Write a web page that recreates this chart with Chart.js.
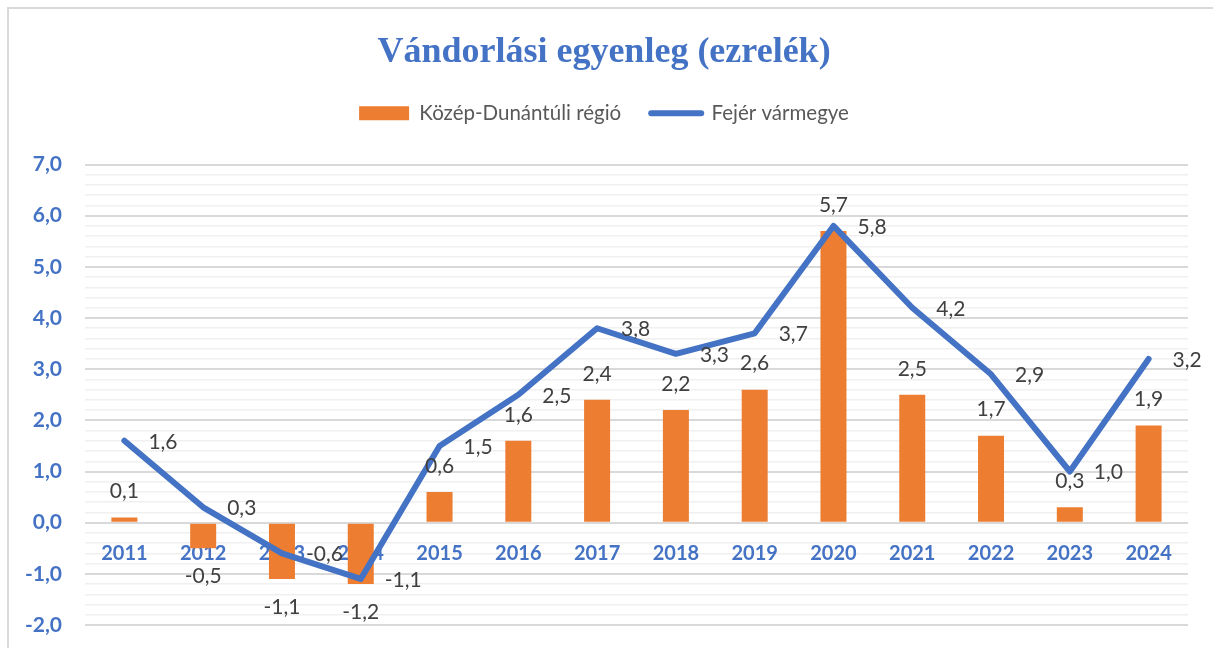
<!DOCTYPE html>
<html>
<head>
<meta charset="utf-8">
<script src="https://cdn.jsdelivr.net/npm/chart.js@4"></script>
<style>
    html, body { margin: 0; padding: 0; background: #ffffff; }
    #wrap { position: relative; width: 1213px; height: 648px; overflow: hidden; }
    #frame { position: absolute; left: 7px; top: 7px; width: 1300px; height: 700px;
             border-left: 2px solid #d9d9d9; border-top: 2px solid #d9d9d9; }
    #chart { position: absolute; left: 0; top: 0; }
</style>
</head>
<body>
<div id="wrap">
    <div id="frame"></div>
    <canvas id="chart" width="1213" height="648"></canvas>
</div>
<script>
const years = ['2011', '2012', '2013', '2014', '2015', '2016', '2017', '2018', '2019', '2020', '2021', '2022', '2023', '2024'];
const regionValues = [0.1, -0.5, -1.1, -1.2, 0.6, 1.6, 2.4, 2.2, 2.6, 5.7, 2.5, 1.7, 0.3, 1.9];
const countyValues = [1.6, 0.3, -0.6, -1.1, 1.5, 2.5, 3.8, 3.3, 3.7, 5.8, 4.2, 2.9, 1.0, 3.2];
const seriesNames = ['Közép-Dunántúli régió', 'Fejér vármegye'];
const chartTitle = 'Vándorlási egyenleg (ezrelék)';

const ORANGE = '#ED7D31';
const BLUE = '#4472C4';

const fmt = v => v.toFixed(1).replace('.', ',');
const isMajor = v => Math.abs(v - Math.round(v)) < 1e-6;

// extra room under the legend, like the Excel layout
const legendGap = {
    id: 'legendGap',
    beforeInit(chart) {
        const fit = chart.legend.fit;
        chart.legend.fit = function () {
            fit.call(this);
            this.height += 31;
        };
    }
};

// value labels: above/below bars, right of the line points
const valueLabels = {
    id: 'valueLabels',
    afterDatasetsDraw(chart) {
        const ctx = chart.ctx;
        ctx.save();
        ctx.font = '21px Lato';
        ctx.fillStyle = '#404040';
        chart.data.datasets.forEach((ds, i) => {
            const meta = chart.getDatasetMeta(i);
            meta.data.forEach((el, j) => {
                const v = ds.data[j];
                if (ds.type === 'line') {
                    ctx.textAlign = 'left';
                    ctx.textBaseline = 'middle';
                    ctx.fillText(fmt(v), el.x + 24, el.y + 1);
                } else {
                    ctx.textAlign = 'center';
                    ctx.textBaseline = 'middle';
                    ctx.fillText(fmt(v), el.x, v >= 0 ? el.y - 26 : el.y + 28);
                }
            });
        });
        ctx.restore();
    }
};

new Chart(document.getElementById('chart'), {
    type: 'bar',
    data: {
        labels: years,
        datasets: [
            {
                type: 'bar',
                label: seriesNames[0],
                data: regionValues,
                backgroundColor: ORANGE,
                borderWidth: 0,
                barPercentage: 0.33,
                categoryPercentage: 1,
                order: 1
            },
            {
                type: 'line',
                label: seriesNames[1],
                data: countyValues,
                borderColor: BLUE,
                backgroundColor: BLUE,
                borderWidth: 6,
                borderCapStyle: 'round',
                borderJoinStyle: 'round',
                tension: 0,
                pointRadius: 0,
                pointHoverRadius: 0,
                fill: false,
                order: 0
            }
        ]
    },
    options: {
        responsive: false,
        devicePixelRatio: 1,
        animation: false,
        layout: { padding: { left: 10, right: 15, top: 0, bottom: 23 } },
        plugins: {
            title: {
                display: true,
                text: chartTitle,
                color: BLUE,
                font: { family: "'Liberation Serif', 'Times New Roman', serif", size: 36, weight: 'bold', lineHeight: 1 },
                padding: { top: 35, bottom: 2 }
            },
            legend: {
                display: true,
                position: 'top',
                labels: {
                    usePointStyle: true,
                    pointStyleWidth: 50,
                    boxHeight: 14,
                    color: '#595959',
                    font: { family: 'Lato', size: 20.5 },
                    padding: 30,
                    generateLabels(chart) {
                        return chart.data.datasets.map((ds, i) => ({
                            text: ds.label,
                            fillStyle: ds.type === 'line' ? BLUE : ORANGE,
                            strokeStyle: ds.type === 'line' ? BLUE : ORANGE,
                            lineWidth: ds.type === 'line' ? 6 : 0,
                            lineCap: 'round',
                            pointStyle: ds.type === 'line' ? 'line' : 'rect',
                            fontColor: '#595959',
                            hidden: false,
                            datasetIndex: i
                        }));
                    }
                }
            },
            tooltip: { enabled: false }
        },
        scales: {
            x: {
                type: 'category',
                position: { y: 0 },
                offset: true,
                grid: { display: false, drawTicks: false },
                border: { display: false },
                ticks: {
                    color: BLUE,
                    font: { family: 'Lato', size: 20, weight: 'bold' },
                    padding: 19,
                    maxRotation: 0,
                    autoSkip: false
                },
                afterFit(scale) {
                    scale.height = 0;
                    scale.paddingTop = 0;
                    scale.paddingBottom = 0;
                }
            },
            y: {
                min: -2,
                max: 7,
                border: { display: false },
                grid: {
                    drawTicks: false,
                    color: c => isMajor(c.tick.value) ? '#d9d9d9' : '#f0f0f0',
                    lineWidth: c => isMajor(c.tick.value) ? 2 : 1.5
                },
                ticks: {
                    stepSize: 0.2,
                    autoSkip: false,
                    padding: 23,
                    color: BLUE,
                    font: { family: 'Lato', size: 21, weight: 'bold' },
                    callback: v => isMajor(v) ? fmt(Math.round(v)) : ''
                },
                afterFit(scale) {
                    scale.width = 75;
                    scale.paddingTop = 0;
                    scale.paddingBottom = 0;
                }
            },
            // empty strip on the right so the plot ends where Excel's does
            yRight: {
                position: 'right',
                display: true,
                grid: { display: false, drawTicks: false },
                border: { display: false },
                ticks: { display: false },
                afterFit(scale) {
                    scale.width = 10;
                    scale.paddingTop = 0;
                    scale.paddingBottom = 0;
                }
            }
        }
    },
    plugins: [legendGap, valueLabels]
});
</script>
</body>
</html>
